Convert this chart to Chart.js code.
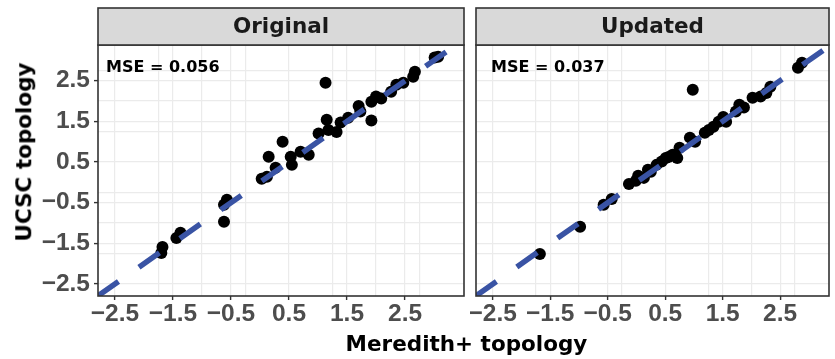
<!DOCTYPE html>
<html>
<head>
<meta charset="utf-8">
<script src="https://cdn.jsdelivr.net/npm/chart.js@4.4.0/dist/chart.umd.min.js"></script>
<style>
html,body{margin:0;padding:0;background:#fff;}
#wrap{position:relative;width:835px;height:359px;overflow:hidden;background:#fff;}
#cA{position:absolute;left:0;top:0;}
#cB{position:absolute;left:470px;top:0;}
.ttl{position:absolute;font-family:'DejaVu Sans';font-weight:bold;font-size:21.5px;line-height:1;color:#000;white-space:nowrap;}
#xt{left:98px;width:737px;text-align:center;top:343.5px;transform:translateY(-50%);}
#yt{left:23.5px;top:152px;transform:translate(-50%,-50%) rotate(-90deg);}
</style>
</head>
<body>
<div id="wrap">
  <canvas id="cA" width="470" height="359"></canvas>
  <canvas id="cB" width="365" height="359"></canvas>
  <div class="ttl" id="xt">Meredith+ topology</div>
  <div class="ttl" id="yt">UCSC topology</div>
</div>
<script>
// ---- data ----
const panelTitles = ['Original', 'Updated'];
const mseLabels = ['MSE = 0.056', 'MSE = 0.037'];
const majorTicks = [-2.5, -1.5, -0.5, 0.5, 1.5, 2.5];
const tickLabels = ['\u22122.5', '\u22121.5', '\u22120.5', '0.5', '1.5', '2.5'];
const minorGrid = [-1.75, -1.0, -0.25, 1.25, 2.0, 2.75];

const origX = [-1.68, -1.70, -1.44, -1.37, -0.62, -0.62, -0.57, 0.03, 0.12, 0.15, 0.27, 0.39, 0.53, 0.55, 0.70, 0.84, 1.01, 1.13, 1.15, 1.18, 1.32, 1.39, 1.52, 1.70, 1.73, 1.92, 1.92, 2.00, 2.09, 2.26, 2.35, 2.47, 2.64, 2.67, 3.01, 3.07];
const origY = [-1.59, -1.74, -1.37, -1.24, -0.97, -0.55, -0.43, 0.09, 0.14, 0.63, 0.36, 1.00, 0.63, 0.43, 0.75, 0.68, 1.20, 2.45, 1.54, 1.29, 1.24, 1.47, 1.59, 1.88, 1.74, 1.52, 1.98, 2.11, 2.06, 2.23, 2.40, 2.45, 2.60, 2.72, 3.07, 3.09];

const updX = [-1.68, -0.98, -0.57, -0.43, -0.13, -0.01, 0.03, 0.13, 0.20, 0.25, 0.35, 0.44, 0.51, 0.57, 0.63, 0.71, 0.75, 0.93, 0.98, 1.02, 1.19, 1.26, 1.34, 1.43, 1.51, 1.56, 1.73, 1.79, 1.87, 2.02, 2.16, 2.26, 2.33, 2.81, 2.88];
const updY = [-1.76, -1.09, -0.55, -0.41, -0.04, 0.04, 0.16, 0.11, 0.31, 0.26, 0.43, 0.51, 0.60, 0.63, 0.68, 0.60, 0.85, 1.10, 2.28, 1.00, 1.22, 1.29, 1.37, 1.49, 1.61, 1.49, 1.74, 1.91, 1.84, 2.08, 2.11, 2.20, 2.35, 2.82, 2.94];

const xLimLeft = [-2.791, 3.516];
const xLimRight = [-2.791, 3.35];
const yLim = [-2.795, 3.378];

// ---- helpers ----
function majorIndex(v){ return majorTicks.findIndex(m => Math.abs(m - v) < 1e-6); }
function gridValues(){
  const extra = minorGrid.filter(v => majorIndex(v) < 0);
  return majorTicks.concat(extra).sort((a,b) => a - b);
}
const tickFont = {family:'Liberation Sans', weight:'bold', size:24.5};

function makeScale(axis, lim, showLabels, size){
  return {
    type:'linear', min: lim[0], max: lim[1],
    position: axis === 'x' ? 'bottom' : 'left',
    afterBuildTicks: s => { s.ticks = gridValues().map(v => ({value:v})); },
    afterFit: s => {
      if (axis === 'x') s.height = size; else s.width = size;
      s.paddingLeft = 0; s.paddingRight = 0; s.paddingTop = 0; s.paddingBottom = 0;
    },
    border:{display:false},
    grid:{
      color:'#ebebeb', lineWidth:1.2,
      drawTicks: showLabels, tickLength:4, tickWidth:1.4,
      tickColor: ctx => (ctx.tick && majorIndex(ctx.tick.value) >= 0) ? '#333333' : 'rgba(0,0,0,0)'
    },
    ticks:{
      display: showLabels, autoSkip:false, maxRotation:0, minRotation:0,
      padding: axis === 'x' ? 0 : 4,
      color:'#4d4d4d', font: tickFont,
      callback: v => { const i = majorIndex(v); return i >= 0 ? tickLabels[i] : ''; }
    }
  };
}

const panelPlugin = {
  id:'panelDeco',
  beforeDatasetsDraw(chart, args, opts){
    const {ctx, chartArea:a} = chart;
    ctx.save();
    ctx.fillStyle = '#000';
    ctx.font = 'bold 16px "DejaVu Sans"';
    ctx.textAlign = 'left'; ctx.textBaseline = 'alphabetic';
    ctx.fillText(opts.mse, a.left + opts.mseDx, 72);
    ctx.restore();
  },
  afterDraw(chart, args, opts){
    const {ctx, chartArea:a} = chart;
    ctx.save();
    ctx.strokeStyle = '#333333'; ctx.lineWidth = 1.6;
    ctx.strokeRect(a.left, a.top, a.right - a.left, a.bottom - a.top);
    ctx.fillStyle = '#d9d9d9';
    ctx.fillRect(a.left, 8, a.right - a.left, a.top - 8);
    ctx.strokeRect(a.left, 8, a.right - a.left, a.top - 8);
    ctx.fillStyle = '#1a1a1a';
    ctx.font = 'bold 21.5px "DejaVu Sans"';
    ctx.textAlign = 'center'; ctx.textBaseline = 'middle';
    ctx.fillText(opts.title, (a.left + a.right) / 2, 27);
    ctx.restore();
  }
};

function makeChart(id, xs, ys, xLim, title, mse, mseDx, yAxisWidth, showYLabels, padRight){
  const pts = xs.map((x, i) => ({x: x, y: ys[i]}));
  return new Chart(document.getElementById(id), {
    type:'scatter',
    data:{ datasets:[
      { data:[{x:xLim[0], y:xLim[0]}, {x:xLim[1], y:xLim[1]}], showLine:true,
        borderColor:'#3953a4', borderWidth:5.5, borderDash:[25,25], borderCapStyle:'butt',
        pointRadius:0, pointHoverRadius:0, fill:false, clip:0 },
      { data: pts, backgroundColor:'#000000', borderWidth:0, pointRadius:6, pointHoverRadius:6, clip:0 }
    ]},
    options:{
      responsive:false, animation:false, devicePixelRatio:1,
      events:[],
      layout:{ padding:{left:0, right:padRight, top:45, bottom:0} },
      plugins:{ legend:{display:false}, tooltip:{enabled:false},
        panelDeco:{ title:title, mse:mse, mseDx:mseDx } },
      scales:{
        x: makeScale('x', xLim, true, 63),
        y: makeScale('y', yLim, showYLabels, yAxisWidth)
      }
    },
    plugins:[panelPlugin]
  });
}

makeChart('cA', origX, origY, xLimLeft, panelTitles[0], mseLabels[0], 8, 98, true, 3);
makeChart('cB', updX, updY, xLimRight, panelTitles[1], mseLabels[1], 15, 5, false, 1);
</script>
</body>
</html>
